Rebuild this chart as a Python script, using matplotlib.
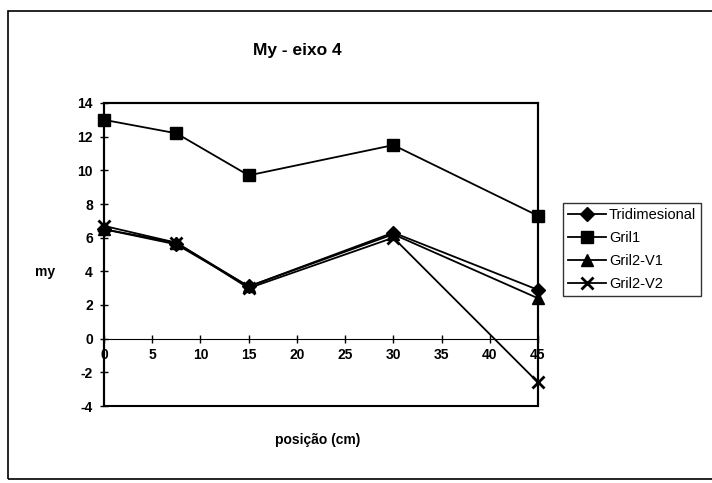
import matplotlib
matplotlib.use("Agg")
import matplotlib.pyplot as plt
from matplotlib.patches import Rectangle

plt.rcParams['font.family'] = ['Liberation Sans', 'DejaVu Sans']
plt.rcParams['axes.unicode_minus'] = False

posicao = [0, 7.5, 15, 30, 45]
tridimesional = [6.5, 5.6, 3.1, 6.3, 2.9]
gril1 = [13.0, 12.2, 9.7, 11.5, 7.3]
gril2_v1 = [6.5, 5.7, 3.1, 6.2, 2.4]
gril2_v2 = [6.7, 5.7, 3.0, 6.0, -2.6]
series_names = ["Tridimesional", "Gril1", "Gril2-V1", "Gril2-V2"]
x_ticks = [0, 5, 10, 15, 20, 25, 30, 35, 40, 45]
y_ticks = [-4, -2, 0, 2, 4, 6, 8, 10, 12, 14]

fig = plt.figure(figsize=(7.12, 4.83), dpi=100)
W, H = 712, 483
ax = fig.add_axes([104 / W, 1 - 406 / H, (538 - 104) / W, (406 - 103) / H])

styles = [
    dict(marker='D', markersize=7),
    dict(marker='s', markersize=9),
    dict(marker='^', markersize=9),
    dict(marker='x', markersize=9, markeredgewidth=2),
]
for vals, name, st in zip([tridimesional, gril1, gril2_v1, gril2_v2], series_names, styles):
    ax.plot(posicao, vals, color='black', lw=1.3, label=name, clip_on=False, **st)

ax.set_xlim(0, 45)
ax.set_ylim(-4, 14)
ax.set_xticks(x_ticks)
ax.set_yticks(y_ticks)

for s in ['top', 'right']:
    ax.spines[s].set_linewidth(1.5)
ax.spines['left'].set_linewidth(1.5)
ax.spines['bottom'].set_position(('data', 0))
ax.spines['bottom'].set_linewidth(0.8)
ax.add_patch(Rectangle((0, 0), 1, 1, transform=ax.transAxes, fill=False, lw=1.5,
                       ec='black', clip_on=False))

ax.tick_params(axis='both', direction='inout', length=6, width=1, labelsize=10)
ax.tick_params(axis='x', pad=4)
ax.tick_params(axis='y', pad=5)
for lab in ax.get_xticklabels() + ax.get_yticklabels():
    lab.set_fontweight('bold')

fig.text(297 / W, 1 - 50 / H, "My - eixo 4", ha='center', va='center',
         fontsize=12.5, fontweight='bold')
fig.text(318 / W, 1 - 440 / H, "posição (cm)", ha='center', va='center',
         fontsize=10, fontweight='bold')
fig.text(45 / W, 1 - 272 / H, "my", ha='center', va='center',
         fontsize=10, fontweight='bold')

leg = fig.legend(loc='upper left', bbox_to_anchor=(563 / W, 1 - 203 / H),
                 frameon=True, fancybox=False, edgecolor='black', fontsize=10.5,
                 borderpad=0.35, labelspacing=0.62, handlelength=2.6,
                 handletextpad=0.2, borderaxespad=0)
leg.get_frame().set_linewidth(1)

fig.add_artist(Rectangle((8 / W, 4 / H), 710 / W, 1 - 15 / H, transform=fig.transFigure,
                         fill=False, lw=1.2, ec='black'))

fig.savefig("out.png", dpi=100)
